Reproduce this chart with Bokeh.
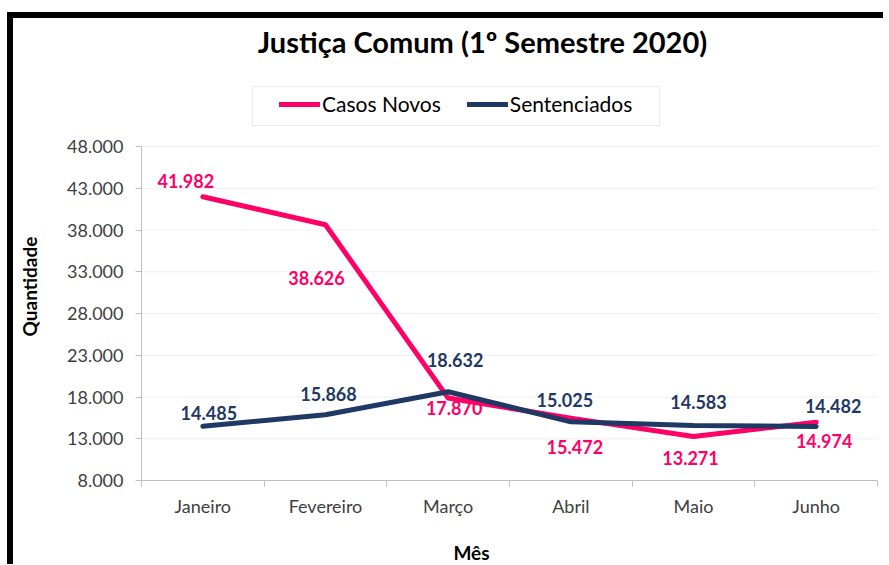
import math
from bokeh.plotting import figure
from bokeh.models import (Range1d, FixedTicker, Label, Legend, LegendItem,
                          BoxAnnotation, ColumnDataSource)
from bokeh.embed import file_html
from bokeh.resources import INLINE
from bokeh.core.properties import value

# ---------------- data ----------------
categories = ["Janeiro", "Fevereiro", "Março", "Abril", "Maio", "Junho"]
casos_novos = [41982, 38626, 17870, 15472, 13271, 14974]
sentenciados = [14485, 15868, 18632, 15025, 14583, 14482]
series_names = ["Casos Novos", "Sentenciados"]
y_ticks = [8000, 13000, 18000, 23000, 28000, 33000, 38000, 43000, 48000]
y_tick_labels = ["8.000", "13.000", "18.000", "23.000", "28.000",
                 "33.000", "38.000", "43.000", "48.000"]
title_text = "Justiça Comum (1º Semestre 2020)"
x_title = "Mês"
y_title = "Quantidade"

# data label offsets (pixels, as placed in the original)
casos_dx = [-17, -9, 6, 4, -3, 8]
casos_dy = [-16, 53, 10, 29, 22, 19]
sent_dx = [6, 3, 7, -6, 5, 17]
sent_dy = [-13, -21, -32, -22, -24, -20]

# ---------------- layout (pixels) ----------------
BORDER = 6
CANVAS_LEFT, CANVAS_TOP = 13, 18        # page position of the canvas
CANVAS_W, CANVAS_H = 876, 552
PLOT_LEFT, PLOT_TOP = 128, 128          # plot area offset inside the canvas
PLOT_W, PLOT_H = 736, 334               # plot area size

PINK = "#FF0066"
NAVY = "#1F3864"
FONT = "Lato"
GRAY = "#BFBFBF"


def fmt(v):
    return f"{v:,}".replace(",", ".")


def sx(page_x):
    return page_x - CANVAS_LEFT


def sy(page_y):
    return CANVAS_TOP + CANVAS_H - page_y


n = len(categories)
xs = [i + 0.5 for i in range(n)]
ymin, ymax = y_ticks[0], y_ticks[-1]
ux = n / PLOT_W
uy = (ymax - ymin) / PLOT_H
x_range = Range1d(-PLOT_LEFT * ux, n + (CANVAS_W - PLOT_LEFT - PLOT_W) * ux)
y_range = Range1d(ymin - (CANVAS_H - PLOT_TOP - PLOT_H) * uy, ymax + PLOT_TOP * uy)

p = figure(width=CANVAS_W, height=CANVAS_H, output_backend="svg", toolbar_location=None,
           x_range=x_range, y_range=y_range,
           min_border_left=0, min_border_right=0, min_border_top=0, min_border_bottom=0)
p.title.visible = False
p.outline_line_color = None
p.background_fill_color = "white"
p.border_fill_color = "white"
p.styles = {"border-top": f"{BORDER}px solid #000000",
            "border-left": f"{BORDER}px solid #000000",
            "margin-top": "12px", "margin-left": "7px"}
p.xgrid.visible = False
p.ygrid.visible = False

# gridlines (from the tick values)
p.segment(x0=0, x1=n, y0=y_ticks[1:], y1=y_ticks[1:], line_color="#EFEFEF", line_width=1)

# axes, placed at the plot-area edges
p.xaxis.fixed_location = ymin
p.xaxis.bounds = (0, n)
p.xaxis.ticker = FixedTicker(ticks=xs, minor_ticks=list(range(n + 1)))
p.xaxis.major_label_overrides = {x: c for x, c in zip(xs, categories)}
p.xaxis.major_tick_line_color = None
p.xaxis.major_tick_out = 0
p.xaxis.major_tick_in = 0
p.xaxis.minor_tick_line_color = GRAY
p.xaxis.minor_tick_out = 6
p.xaxis.minor_tick_in = 0
p.xaxis.axis_line_color = GRAY
p.xaxis.major_label_standoff = 8

p.yaxis.fixed_location = 0
p.yaxis.bounds = (ymin, ymax)
p.yaxis.ticker = FixedTicker(ticks=y_ticks)
p.yaxis.major_label_overrides = {t: l for t, l in zip(y_ticks, y_tick_labels)}
p.yaxis.axis_line_color = GRAY
p.yaxis.major_tick_line_color = GRAY
p.yaxis.major_tick_out = 6
p.yaxis.major_tick_in = 0
p.yaxis.minor_tick_line_color = None
p.yaxis.major_label_standoff = 12

for ax in (p.xaxis, p.yaxis):
    ax.major_label_text_font = FONT
    ax.major_label_text_font_size = "18px"
    ax.major_label_text_color = "#404040"

# series
src_c = ColumnDataSource(dict(x=xs, y=casos_novos, t=[fmt(v) for v in casos_novos],
                              dx=casos_dx, dy=casos_dy))
src_s = ColumnDataSource(dict(x=xs, y=sentenciados, t=[fmt(v) for v in sentenciados],
                              dx=sent_dx, dy=sent_dy))

r_c = p.line("x", "y", source=src_c, line_color=PINK, line_width=5,
             line_cap="round", line_join="round")
p.text("x", "y", text="t", source=src_c, x_offset="dx", y_offset="dy",
       text_color=PINK, text_font=value(FONT), text_font_style="bold",
       text_font_size="18px", text_align="center", text_baseline="middle")
r_s = p.line("x", "y", source=src_s, line_color=NAVY, line_width=5,
             line_cap="round", line_join="round")
p.text("x", "y", text="t", source=src_s, x_offset="dx", y_offset="dy",
       text_color=NAVY, text_font=value(FONT), text_font_style="bold",
       text_font_size="18px", text_align="center", text_baseline="middle")

# legend box + legend
box = BoxAnnotation(left=sx(252), right=sx(659), top=sy(86), bottom=sy(125),
                    left_units="screen", right_units="screen",
                    top_units="screen", bottom_units="screen",
                    fill_alpha=0, line_color=GRAY, line_width=1)
p.add_layout(box)

legend = Legend(items=[LegendItem(label=series_names[0], renderers=[r_c]),
                       LegendItem(label=series_names[1], renderers=[r_s])],
                location=(sx(279), sy(116)), orientation="horizontal",
                border_line_color=None, background_fill_alpha=0,
                padding=0, margin=0, spacing=26, label_standoff=2,
                glyph_width=41, glyph_height=22, label_height=22,
                label_text_font=FONT, label_text_font_size="21px",
                label_text_color="#000000")
p.add_layout(legend)

# titles
p.add_layout(Label(x=sx(482), y=sy(41), x_units="screen", y_units="screen", text=title_text,
                   text_font=FONT, text_font_style="bold", text_font_size="29px",
                   text_color="#000000", text_align="center", text_baseline="middle"))
p.add_layout(Label(x=sx(29), y=sy(286), x_units="screen", y_units="screen", text=y_title,
                   angle=math.pi / 2, text_font=FONT, text_font_style="bold",
                   text_font_size="19px", text_color="#000000",
                   text_align="center", text_baseline="middle"))
p.add_layout(Label(x=sx(471), y=sy(552), x_units="screen", y_units="screen", text=x_title,
                   text_font=FONT, text_font_style="bold", text_font_size="19px",
                   text_color="#000000", text_align="center", text_baseline="middle"))

open("out.html", "w").write(file_html(p, INLINE))
